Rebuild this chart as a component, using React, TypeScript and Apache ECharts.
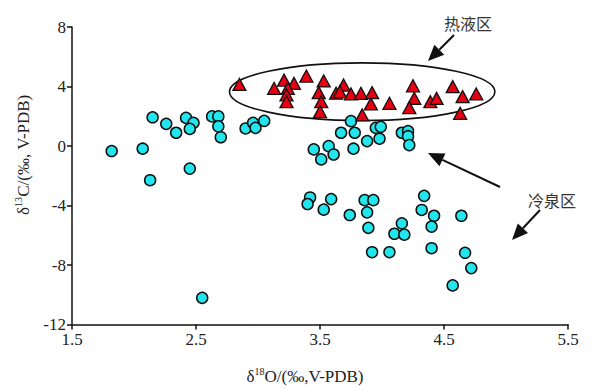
import React, { useEffect, useRef } from "react";
import * as echarts from "echarts";

// δ18O (x) / δ13C (y) — cold seep carbonates (cyan circles)
const coldSeepX = [1.82, 2.07, 2.13, 2.45, 2.15, 2.26, 2.34, 2.42, 2.48, 2.45, 2.63, 2.68, 2.68, 2.70, 2.90, 2.96, 2.98, 3.05,
  3.45, 3.51, 3.57, 3.61, 3.67, 3.75, 3.77, 3.78, 3.88, 3.95, 3.99, 3.98, 4.16, 4.21, 4.21, 4.22,
  3.42, 3.40, 3.59, 3.53, 3.74, 3.86, 3.93, 3.88, 3.89, 4.16, 4.10, 4.18, 3.92, 4.06,
  4.34, 4.32, 4.42, 4.40, 4.40, 4.64, 4.67, 4.72, 4.57, 2.55];
const coldSeepY = [-0.34, -0.18, -2.3, -1.52, 1.93, 1.49, 0.89, 1.89, 1.56, 1.15, 1.99, 1.99, 1.32, 0.59, 1.18, 1.56, 1.22, 1.69,
  -0.23, -0.9, -0.01, -0.57, 0.89, 1.67, -0.18, 0.89, 0.33, 1.22, 1.29, 0.49, 0.89, 1.0, 0.66, 0.06,
  -3.46, -3.9, -3.57, -4.28, -4.64, -3.64, -3.64, -4.46, -5.5, -5.2, -5.9, -5.96, -7.14, -7.14,
  -3.35, -4.3, -4.69, -5.42, -6.87, -4.69, -7.18, -8.21, -9.37, -10.21];

// hydrothermal carbonates (red triangles)
const hydroX = [2.85, 3.13, 3.21, 3.29, 3.24, 3.23, 3.23, 3.39, 3.53, 3.49, 3.51, 3.50, 3.69, 3.63, 3.66,
  3.75, 3.83, 3.92, 3.91, 4.06, 3.84, 4.25, 4.26, 4.22, 4.39, 4.44, 4.57, 4.65, 4.76, 4.63];
const hydroY = [4.14, 3.87, 4.43, 4.21, 3.87, 3.43, 2.98, 4.70, 4.37, 3.59, 2.98, 2.31, 4.10, 3.55, 3.65,
  3.50, 3.54, 3.59, 2.83, 2.87, 2.09, 4.05, 3.20, 2.58, 2.98, 3.20, 3.99, 3.32, 3.50, 2.20];

// hydrothermal zone ellipse: centre x, centre y, radius x, radius y
const zoneEllipse = [3.84, 3.65, 1.07, 1.94];

const xTicks = [1.5, 2.5, 3.5, 4.5, 5.5];
const yTicks = [-12, -8, -4, 0, 4, 8];

const labelHydro = "热液区";
const labelSeep = "冷泉区";

function arrow(x1: number, y1: number, x2: number, y2: number) {
  const dx = x2 - x1, dy = y2 - y1;
  const len = Math.sqrt(dx * dx + dy * dy);
  const ux = dx / len, uy = dy / len;
  const hl = 16, hw = 7;
  const bx = x2 - ux * hl, by = y2 - uy * hl;
  const px = -uy * hw, py = ux * hw;
  return [
    { type: "line", shape: { x1, y1, x2: bx, y2: by }, style: { stroke: "#111", lineWidth: 2 } },
    { type: "polygon", shape: { points: [[x2, y2], [bx + px, by + py], [bx - px, by - py]] }, style: { fill: "#111" } },
  ];
}

export default function App() {
  const ref = useRef<HTMLDivElement>(null);
  useEffect(() => {
    if (!ref.current) return;
    const chart = echarts.init(ref.current, null, { renderer: "svg" });
    const serif = "'Liberation Serif', 'Times New Roman', serif";
    const nameRich = {
      a: { fontFamily: serif, fontSize: 17, color: "#222", lineHeight: 20 },
      s: { fontFamily: serif, fontSize: 10, color: "#222", lineHeight: 20, verticalAlign: "top" as const },
    };
    chart.setOption({
      animation: false,
      backgroundColor: "#fff",
      grid: { left: 72, right: 47, top: 27, bottom: 64 },
      xAxis: {
        type: "value",
        min: 1.5,
        max: 5.5,
        splitLine: { show: false },
        axisLine: { onZero: false, lineStyle: { color: "#111", width: 1.5 } },
        axisTick: { customValues: xTicks, length: 5, lineStyle: { color: "#111", width: 1.5 } },
        axisLabel: { customValues: xTicks, fontFamily: serif, fontSize: 17, color: "#222", margin: 6 },
        name: "{a|δ}{s|18}{a|O/(‰,V-PDB)}",
        nameLocation: "middle",
        nameGap: 42,
        nameTextStyle: { rich: nameRich, padding: [0, 30, 0, 0] },
      },
      yAxis: {
        type: "value",
        min: -12,
        max: 8,
        interval: 4,
        splitLine: { show: false },
        axisLine: { onZero: false, lineStyle: { color: "#111", width: 1.5 } },
        axisTick: { length: 5, lineStyle: { color: "#111", width: 1.5 } },
        axisLabel: { customValues: yTicks, fontFamily: serif, fontSize: 17, color: "#222", margin: 6 },
        name: "{a|δ}{s|13}{a|C/(‰, V-PDB)}",
        nameLocation: "middle",
        nameGap: 33,
        nameTextStyle: { rich: nameRich, padding: [0, 0, 0, 42] },
      },
      series: [
        {
          type: "custom",
          z: 1,
          clip: false,
          encode: { x: 0, y: 1 },
          data: [zoneEllipse],
          renderItem: (params: any, api: any) => {
            const c = api.coord([api.value(0), api.value(1)]);
            const s = api.size([api.value(2), api.value(3)]);
            return {
              type: "ellipse",
              shape: { cx: c[0], cy: c[1], rx: s[0], ry: s[1] },
              style: { fill: "none", stroke: "#111", lineWidth: 1.6 },
            };
          },
        },
        {
          type: "scatter",
          z: 2,
          symbol: "circle",
          symbolSize: 11,
          itemStyle: { color: "#22e6ee", borderColor: "#111", borderWidth: 1.5, opacity: 1 },
          data: coldSeepX.map((x, i) => [x, coldSeepY[i]]),
        },
        {
          type: "scatter",
          z: 3,
          symbol: "triangle",
          symbolSize: [13, 12],
          itemStyle: { color: "#e60012", borderColor: "#111", borderWidth: 1.3, opacity: 1 },
          data: hydroX.map((x, i) => [x, hydroY[i]]),
        },
      ],
      graphic: [
        ...arrow(454, 35, 428, 61),
        ...arrow(500, 187, 428, 153),
        ...arrow(540, 210, 512, 240),
        {
          type: "text",
          x: 468,
          y: 23,
          style: { text: labelHydro, font: "16px 'Noto Sans CJK SC'", fill: "#333", align: "center", verticalAlign: "middle" },
        },
        {
          type: "text",
          x: 552,
          y: 200,
          style: { text: labelSeep, font: "16px 'Noto Sans CJK SC'", fill: "#333", align: "center", verticalAlign: "middle" },
        },
      ],
    });
    return () => chart.dispose();
  }, []);
  return <div ref={ref} style={{ position: "fixed", left: 0, top: 0, width: 615, height: 390, background: "#fff" }} />;
}
